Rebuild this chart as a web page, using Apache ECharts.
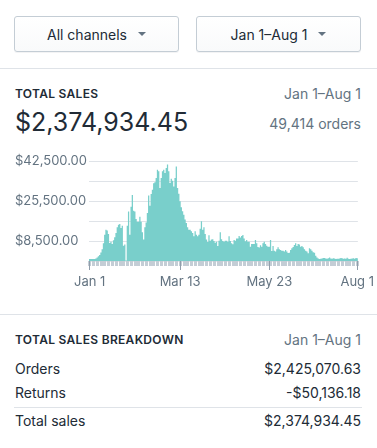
<!DOCTYPE html>
<html lang="en">
<head>
<meta charset="utf-8">
<script src="https://cdn.jsdelivr.net/npm/echarts@6/dist/echarts.min.js"></script>
<style>
  body { margin: 0; width: 377px; height: 448px; background: #fff; position: relative; overflow: hidden;
         font-family: Inter, "Noto Sans", sans-serif; color: #212b36; }
  .btn { position: absolute; top: 16px; height: 34px; width: 163px; border: 1px solid #c4cdd5; border-radius: 3px;
         background: linear-gradient(#fff, #f9fafb); box-shadow: 0 1px 0 rgba(22,29,37,.05);
         display: flex; align-items: center; justify-content: center; font-size: 14px; }
  .caret { display: inline-block; width: 0; height: 0; margin-left: 11px;
           border-left: 4.5px solid transparent; border-right: 4.5px solid transparent; border-top: 4px solid #637381; }
  .rule { position: absolute; left: 0; width: 377px; height: 1px; background: #dfe3e8; }
  .t { position: absolute; line-height: 20px; white-space: nowrap; }
  .l { left: 15px; }
  .r { right: 16px; text-align: right; }
  .head { font-size: 12px; font-weight: 600; letter-spacing: 0.3px; }
  .sub { font-size: 14px; color: #637381; }
  .row { font-size: 14px; }
  #container { position: absolute; left: 0; top: 140px; width: 377px; height: 160px; }
</style>
</head>
<body>
  <div class="btn" style="left:14px;">All channels<span class="caret"></span></div>
  <div class="btn" style="left:196px;">Jan 1–Aug 1<span class="caret"></span></div>
  <div class="rule" style="top:68px;"></div>

  <div class="t l head" style="top:84px;">TOTAL SALES</div>
  <div class="t r sub" style="top:84px;">Jan 1–Aug 1</div>
  <div class="t l" style="top:107px; line-height:30px; font-size:25px;">$2,374,934.45</div>
  <div class="t r sub" style="top:114px;">49,414 orders</div>

  <div id="container"></div>

  <div class="rule" style="top:314px;"></div>
  <div class="t l head" style="top:330px;">TOTAL SALES BREAKDOWN</div>
  <div class="t r sub" style="top:330px;">Jan 1–Aug 1</div>
  <div class="t l row" style="top:359px;">Orders</div>
  <div class="t r row" style="top:359px;">$2,425,070.63</div>
  <div class="t l row" style="top:383px;">Returns</div>
  <div class="t r row" style="top:383px;">-$50,136.18</div>
  <div class="rule" style="top:407px; left:14px; width:348px;"></div>
  <div class="t l row" style="top:411px;">Total sales</div>
  <div class="t r row" style="top:411px;">$2,374,934.45</div>

  <script type="text/javascript">
    var monthNames = ['Jan', 'Feb', 'Mar', 'Apr', 'May', 'Jun', 'Jul', 'Aug'];
    var monthDays = [31, 29, 31, 30, 31, 30, 31, 1];
    var xTickLabels = ['Jan 1', 'Mar 13', 'May 23', 'Aug 1'];
    var yTickLabels = [8500, 25500, 42500];

    // daily total sales, Jan 1 .. Aug 1
    var dailySales = [
      800, 800, 800, 800, 900, 1100, 1500, 2000, 2600, 3600,
      5000, 7500, 11200, 13300, 13000, 11500, 7700, 8200, 7200, 8800,
      10100, 11900, 14300, 15400, 15700, 14000, 15000, 6500, 7000, 200,
      15000, 21000, 11200, 23100, 28100, 21400, 21000, 17900, 16700, 16700,
      18800, 16700, 12200, 9100, 14300, 16400, 20400, 27800, 23500, 28500,
      30300, 33000, 33500, 35300, 38800, 38100, 31000, 35300, 38100, 38800,
      37400, 39500, 41000, 38100, 33200, 35000, 34100, 31700, 35300, 40200,
      31000, 28600, 25400, 22800, 21100, 19700, 17600, 16200, 14300, 13300,
      13300, 12600, 11900, 10500, 12600, 11200, 10500, 11200, 13700, 16900,
      13300, 14300, 11500, 9100, 8100, 10900, 8600, 9100, 9200, 8500,
      7800, 8200, 6400, 8600, 12200, 9200, 8500, 8200, 8600, 8600,
      8200, 10500, 8500, 7500, 7100, 8900, 8600, 9600, 9600, 10600,
      10000, 10600, 11000, 9600, 8400, 8900, 8200, 8200, 6100, 7200,
      7200, 7200, 8900, 7500, 6000, 5700, 6700, 6100, 7500, 8200,
      7200, 6500, 6100, 6100, 8900, 4200, 6400, 4400, 4000, 5000,
      5800, 5000, 4700, 4400, 4400, 4000, 4700, 4000, 3400, 3500,
      4700, 5400, 6000, 6800, 7500, 6400, 7200, 7000, 6100, 6400,
      5800, 5000, 4400, 4000, 3300, 5400, 5000, 4400, 3700, 3500,
      2200, 1500, 1100, 900, 1000, 1100, 1300, 1300, 1100, 1000,
      1200, 1500, 1100, 1000, 1200, 1100, 900, 1000, 1000, 1100,
      1300, 1200, 1000, 1100, 1000, 1400, 1000, 900, 1000, 1100,
      1200, 1000, 1300, 1200
    ];

    var days = [];
    monthNames.forEach(function (m, i) {
      for (var d = 1; d <= monthDays[i]; d++) days.push(m + ' ' + d);
    });

    var dom = document.getElementById('container');
    var myChart = echarts.init(dom, null, { renderer: 'canvas' });

    function isLabelDay(index, value) {
      return xTickLabels.indexOf(value) >= 0;
    }

    var option = {
      animation: false,
      grid: { left: 89, right: 15, top: 21, height: 100 },
      xAxis: [
        {
          type: 'category',
          data: days,
          axisLine: { show: false },
          axisTick: {
            show: true,
            alignWithLabel: true,
            interval: function (i) { return i % 3 === 0; },
            length: 5,
            lineStyle: { color: '#c4cdd5', width: 3 }
          },
          axisLabel: {
            interval: isLabelDay,
            margin: 15,
            color: '#637381',
            fontSize: 13,
            fontFamily: 'Inter'
          }
        },
        {
          type: 'category',
          data: days,
          position: 'bottom',
          axisLine: { show: false },
          axisLabel: { show: false },
          axisTick: {
            show: true,
            alignWithLabel: true,
            interval: isLabelDay,
            length: 9,
            lineStyle: { color: '#919eab', width: 1 }
          }
        }
      ],
      yAxis: {
        type: 'value',
        min: 0,
        max: 42500,
        interval: 8500,
        axisLine: { show: false },
        axisTick: { show: false },
        axisLabel: {
          align: 'left',
          margin: 74,
          color: '#637381',
          fontSize: 13,
          fontFamily: 'Inter',
          padding: [3, 0, 0, 0],
          formatter: function (v) {
            if (yTickLabels.indexOf(v) < 0) return '';
            return '$' + v.toLocaleString('en-US', { minimumFractionDigits: 2 });
          }
        },
        splitLine: { lineStyle: { color: '#dfe3e8', width: 1 } }
      },
      series: [
        {
          type: 'bar',
          xAxisIndex: 0,
          data: dailySales,
          barCategoryGap: '0%',
          large: true,
          largeThreshold: 50,
          itemStyle: { color: '#79cfcb' }
        }
      ]
    };

    myChart.setOption(option);
    window.addEventListener('resize', myChart.resize);
  </script>
</body>
</html>
